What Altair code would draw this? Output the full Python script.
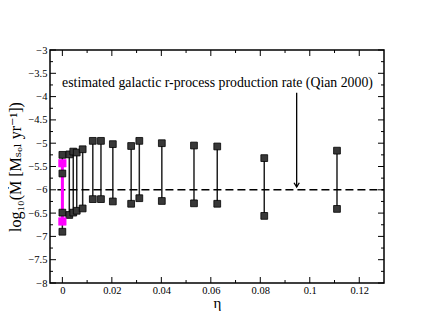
import altair as alt
import pandas as pd

# black ranges (eta, upper, lower)
eta = [0.0, 0.0, 0.0028, 0.0044, 0.0058, 0.0082, 0.0123, 0.0156, 0.0204,
       0.0278, 0.0311, 0.0402, 0.0532, 0.0626, 0.0816, 0.111]
hi = [-5.25, -5.65, -5.24, -5.18, -5.20, -5.13, -4.95, -4.95, -5.02,
      -5.06, -4.95, -5.00, -5.05, -5.07, -5.32, -5.16]
lo = [-6.49, -6.90, -6.54, -6.49, -6.45, -6.40, -6.20, -6.20, -6.25,
      -6.30, -6.18, -6.24, -6.29, -6.30, -6.56, -6.41]

# magenta range
pink_eta = [0.0]
pink_hi = [-5.43]
pink_lo = [-6.68]

# reference level and annotation
ref_level = [-6.0]
ref_x0 = [-0.002]
ref_x1 = [0.13]
note_text = ["estimated galactic r-process production rate (Qian 2000)"]
note_x = [0.0627]
note_y = [-3.71]
arrow_x = [0.0947]
arrow_top = [-3.92]
arrow_tip = [-5.94]

x_major = [0, 0.02, 0.04, 0.06, 0.08, 0.10, 0.12]
x_minor = [0.01, 0.03, 0.05, 0.07, 0.09, 0.11]
y_major = [-8, -7.5, -7, -6.5, -6, -5.5, -5, -4.5, -4, -3.5, -3]
y_minor = [-7.75, -7.25, -6.75, -6.25, -5.75, -5.25, -4.75, -4.25, -3.75, -3.25]

W, H = 334, 233
FONT = "'Liberation Serif', 'DejaVu Serif', serif"

xs = alt.Scale(domain=[-0.005, 0.13], nice=False, zero=False)
ys = alt.Scale(domain=[-8, -3], nice=False, zero=False)

bars = pd.DataFrame({"eta": eta, "hi": hi, "lo": lo})
pts = pd.DataFrame({"eta": eta + eta, "v": hi + lo})
pbars = pd.DataFrame({"eta": pink_eta, "hi": pink_hi, "lo": pink_lo})
ppts = pd.DataFrame({"eta": pink_eta + pink_eta, "v": pink_hi + pink_lo})

xaxis = alt.Axis(values=x_major, ticks=False, domain=False, grid=False,
                 labelExpr="format(datum.value, '~g')", labelFont=FONT,
                 labelFontSize=10.5, labelColor="black", labelPadding=2,
                 title="η", titleFont=FONT, titleFontSize=15,
                 titleFontWeight="normal", titleColor="black", titlePadding=0)
yaxis = alt.Axis(values=y_major, ticks=False, domain=False, grid=False,
                 labelExpr="format(datum.value, '~g')", labelFont=FONT,
                 labelFontSize=10.5, labelColor="black", labelPadding=3,
                 title="log₁₀(Ṁ [Mₛₒₗ yr⁻¹])", titleFont=FONT, titleFontSize=16,
                 titleFontWeight="normal", titleColor="black", titlePadding=4)


def X(f):
    return alt.X(f, scale=xs, axis=xaxis)


def Y(f):
    return alt.Y(f, scale=ys, axis=yaxis)


black_lines = alt.Chart(bars).mark_rule(color="#222222", strokeWidth=1.5).encode(
    x=X("eta:Q"), y=Y("hi:Q"), y2="lo:Q",
)
pink_line = alt.Chart(pbars).mark_rule(color="#ff00ff", strokeWidth=3).encode(
    x=X("eta:Q"), y=Y("hi:Q"), y2="lo:Q",
)
black_pts = alt.Chart(pts).mark_point(shape="square", filled=True, size=46,
                                      fill="#383838", stroke="#000000",
                                      strokeWidth=0.8, opacity=1).encode(
    x=X("eta:Q"), y=Y("v:Q"),
)
pink_pts = alt.Chart(ppts).mark_point(shape="square", filled=True, size=58,
                                      fill="#ff00ff", stroke="#ff00ff",
                                      strokeWidth=0.5, opacity=1).encode(
    x=X("eta:Q"), y=Y("v:Q"),
)

refdf = pd.DataFrame({"x0": ref_x0, "x1": ref_x1, "y": ref_level})
dashed = alt.Chart(refdf).mark_rule(color="black", strokeWidth=1.5,
                                    strokeDash=[8, 4]).encode(
    x=X("x0:Q"), x2="x1:Q", y=Y("y:Q"),
)

notedf = pd.DataFrame({"x": note_x, "y": note_y, "t": note_text})
note = alt.Chart(notedf).mark_text(font=FONT, fontSize=13.8, color="black",
                                   align="center", baseline="middle").encode(
    x=X("x:Q"), y=Y("y:Q"), text="t:N",
)

arrdf = pd.DataFrame({"x": arrow_x, "y0": arrow_top, "y1": arrow_tip})
arrow_line = alt.Chart(arrdf).mark_rule(color="black", strokeWidth=1.3).encode(
    x=X("x:Q"), y=Y("y0:Q"), y2="y1:Q",
)
arrow_head = alt.Chart(arrdf).mark_point(
    shape="M-1,-1.6L0,0L1,-1.6", filled=False, size=28, stroke="black",
    strokeWidth=1.3, opacity=1).encode(
    x=X("x:Q"), y=Y("y1:Q"),
)


def xticks(vals, length):
    df = pd.DataFrame({"eta": vals})
    base = alt.Chart(df).mark_rule(color="black", strokeWidth=1)
    bottom = base.encode(x=X("eta:Q"), y=alt.value(H), y2=alt.value(H - length))
    top = base.encode(x=X("eta:Q"), y=alt.value(0), y2=alt.value(length))
    return [bottom, top]


def yticks(vals, length):
    df = pd.DataFrame({"v": vals})
    base = alt.Chart(df).mark_rule(color="black", strokeWidth=1)
    left = base.encode(y=Y("v:Q"), x=alt.value(0), x2=alt.value(length))
    right = base.encode(y=Y("v:Q"), x=alt.value(W), x2=alt.value(W - length))
    return [left, right]


tick_layers = xticks(x_major, 6) + xticks(x_minor, 3) + yticks(y_major, 6) + yticks(y_minor, 3)

chart = alt.layer(
    black_lines, dashed, pink_line, black_pts, pink_pts, note, arrow_line,
    arrow_head, *tick_layers
).properties(
    width=W, height=H,
    autosize=alt.AutoSizeParams(type="none"),
    padding={"left": 42, "top": 42, "right": 30, "bottom": 35},
    background="white",
).configure_view(stroke="black", strokeWidth=1.5)

chart.save("out.html", embed_options={"renderer": "svg", "actions": False})
